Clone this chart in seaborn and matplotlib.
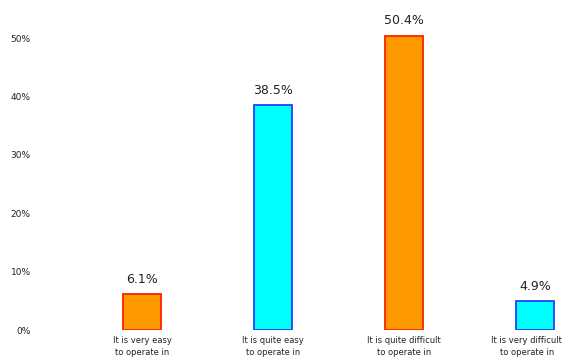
import matplotlib
matplotlib.use("Agg")
import matplotlib.pyplot as plt
import matplotlib.transforms as mtransforms
import seaborn as sns
import pandas as pd

# data
categories = ["It is very easy\nto operate in",
              "It is quite easy\nto operate in",
              "It is quite difficult\nto operate in",
              "It is very difficult\nto operate in"]
shares = [6.1, 38.5, 50.4, 4.9]
value_labels = ["6.1%", "38.5%", "50.4%", "4.9%"]
fill_colors = ["#FF9900", "#00FFFF", "#FF9900", "#00FFFF"]
edge_colors = ["#FF2000", "#2040FF", "#FF2000", "#2040FF"]

sns.set_style("white")
plt.rcParams['font.family'] = ['DejaVu Sans']

df = pd.DataFrame({'answer': categories, 'share': shares})

fig = plt.figure(figsize=(5.68, 3.63), dpi=100)
# axes placed in pixel terms so bar centres land where they are in the picture
px = 131.0
left = 142 - 0.5 * px
ax = fig.add_axes([left / 568, 33 / 363, 3.7 * px / 568, 55 * 5.84 / 363])

sns.barplot(data=df, x='answer', y='share', hue='answer', palette=fill_colors,
            legend=False, width=0.29, ax=ax, saturation=1)

for patch, ec in zip(ax.patches, edge_colors):
    patch.set_edgecolor(ec)
    patch.set_linewidth(1.3)

for i, (v, lab) in enumerate(zip(shares, value_labels)):
    ax.text(i, v + 1.4, lab, ha='center', va='bottom', fontsize=9, color='#222222')

ax.set_xlim(-0.5, 3.2)
ax.set_ylim(0, 55)
ax.set_yticks([0, 10, 20, 30, 40, 50])
ax.set_yticklabels([f"{t}%" for t in [0, 10, 20, 30, 40, 50]], fontsize=6.5, color='#222222')
ax.tick_params(axis='y', length=0, pad=33)
ax.tick_params(axis='x', length=0, pad=4, labelsize=6.0, colors='#222222')
labels = ax.get_xticklabels()
for t in labels:
    t.set_linespacing(1.5)
# last label sits right at the edge, nudge it in a little
shift = mtransforms.ScaledTranslation(-6 / 72, 0, fig.dpi_scale_trans)
labels[-1].set_transform(labels[-1].get_transform() + shift)
ax.set_xlabel("")
ax.set_ylabel("")
sns.despine(ax=ax, left=True, bottom=True)

fig.savefig("out.png", dpi=100)
